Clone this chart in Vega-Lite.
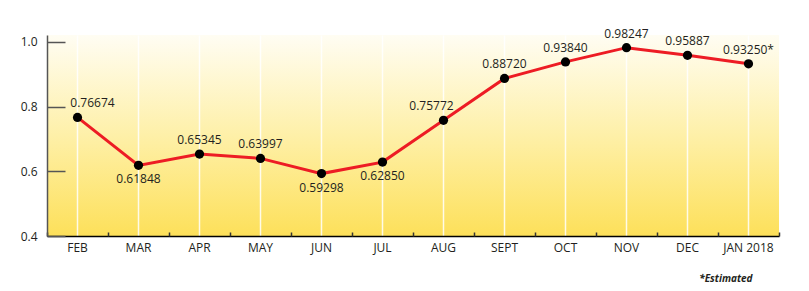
{
  "$schema": "https://vega.github.io/schema/vega-lite/v6.json",
  "width": 732,
  "height": 201,
  "autosize": {"type": "none"},
  "padding": {"left": 47, "top": 35, "right": 30, "bottom": 55},
  "background": "#ffffff",
  "config": {
    "font": "Open Sans",
    "view": {
      "stroke": null,
      "fill": {
        "gradient": "linear",
        "x1": 0, "y1": 0, "x2": 0, "y2": 1,
        "stops": [
          {"offset": 0, "color": "#fffdf3"},
          {"offset": 0.5, "color": "#fef0a8"},
          {"offset": 1, "color": "#fde05a"}
        ]
      }
    }
  },
  "data": {
    "values": [
      {"month": "FEB", "value": 0.76674, "label": "0.76674"},
      {"month": "MAR", "value": 0.61848, "label": "0.61848"},
      {"month": "APR", "value": 0.65345, "label": "0.65345"},
      {"month": "MAY", "value": 0.63997, "label": "0.63997"},
      {"month": "JUN", "value": 0.59298, "label": "0.59298"},
      {"month": "JUL", "value": 0.6285, "label": "0.62850"},
      {"month": "AUG", "value": 0.75772, "label": "0.75772"},
      {"month": "SEPT", "value": 0.8872, "label": "0.88720"},
      {"month": "OCT", "value": 0.9384, "label": "0.93840"},
      {"month": "NOV", "value": 0.98247, "label": "0.98247"},
      {"month": "DEC", "value": 0.95887, "label": "0.95887"},
      {"month": "JAN 2018", "value": 0.9325, "label": "0.93250*"}
    ]
  },
  "encoding": {
    "x": {
      "field": "month",
      "type": "nominal",
      "sort": null,
      "axis": null,
      "scale": {"type": "band", "paddingInner": 0, "paddingOuter": 0}
    },
    "y": {
      "field": "value",
      "type": "quantitative",
      "scale": {"domain": [0.4, 1.0216], "nice": false, "zero": false},
      "axis": {
        "title": null,
        "values": [0.4, 0.6, 0.8, 1.0],
        "format": ".1f",
        "grid": false,
        "domainColor": "#555555",
        "domainWidth": 1.5,
        "tickColor": "#555555",
        "tickWidth": 1.5,
        "tickSize": -18,
        "labelPadding": 28,
        "labelFontSize": 12,
        "labelColor": "#231f20"
      }
    }
  },
  "layer": [
    {
      "mark": {"type": "line", "color": "#ed1c24", "strokeWidth": 3},
      "encoding": {
        "x": {
          "field": "month",
          "type": "nominal",
          "sort": null,
          "axis": {
            "orient": "bottom",
            "title": "*Estimated",
            "titleFontSize": 10,
            "titleFontStyle": "italic",
            "titleFontWeight": "bold",
            "titleColor": "#231f20",
            "titleAlign": "right",
            "titleAnchor": null,
            "titleX": 705,
            "titleY": 45,
            "titleBaseline": "alphabetic",
            "labelAngle": 0,
            "labelFontSize": 12,
            "labelColor": "#231f20",
            "labelPadding": 6,
            "ticks": false,
            "grid": true,
            "gridColor": "#ffffff",
            "gridOpacity": 0.85,
            "gridWidth": 1.5,
            "domainColor": "#000000",
            "domainWidth": 1.5
          }
        }
      }
    },
    {
      "mark": {"type": "point", "filled": true, "color": "#000000", "opacity": 1, "size": 85},
      "encoding": {
        "x": {
          "field": "month",
          "type": "nominal",
          "sort": null,
          "axis": {
            "orient": "bottom",
            "title": null,
            "labels": false,
            "grid": false,
            "domain": false,
            "ticks": true,
            "tickBand": "extent",
            "tickColor": "#333333",
            "tickWidth": 1.5,
            "tickSize": -4
          }
        }
      }
    },
    {
      "transform": [{"filter": {"field": "month", "oneOf": ["APR", "MAY", "SEPT", "OCT", "NOV", "DEC", "JAN 2018"]}}],
      "mark": {"type": "text", "fontSize": 12, "color": "#231f20", "baseline": "alphabetic", "dy": -10},
      "encoding": {"text": {"field": "label"}}
    },
    {
      "transform": [{"filter": {"field": "month", "oneOf": ["FEB"]}}],
      "mark": {"type": "text", "fontSize": 12, "color": "#231f20", "baseline": "alphabetic", "dy": -10, "dx": 15},
      "encoding": {"text": {"field": "label"}}
    },
    {
      "transform": [{"filter": {"field": "month", "oneOf": ["AUG"]}}],
      "mark": {"type": "text", "fontSize": 12, "color": "#231f20", "baseline": "alphabetic", "dy": -10, "dx": -12},
      "encoding": {"text": {"field": "label"}}
    },
    {
      "transform": [{"filter": {"field": "month", "oneOf": ["MAR", "JUN", "JUL"]}}],
      "mark": {"type": "text", "fontSize": 12, "color": "#231f20", "baseline": "top", "dy": 9},
      "encoding": {"text": {"field": "label"}}
    }
  ],
  "resolve": {"axis": {"x": "independent"}}
}
